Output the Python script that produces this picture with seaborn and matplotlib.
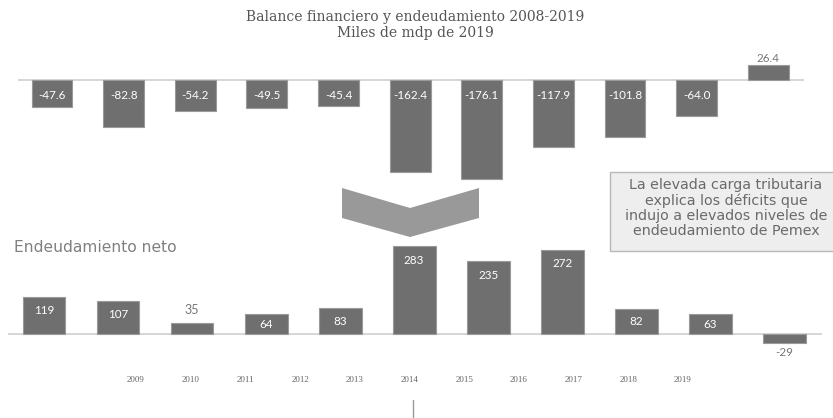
import matplotlib
matplotlib.use("Agg")
import matplotlib.pyplot as plt
import seaborn as sns
import pandas as pd
from matplotlib.patches import Polygon, Rectangle
from matplotlib.lines import Line2D

# ---- data ----
years = ["2009", "2010", "2011", "2012", "2013", "2014", "2015", "2016", "2017", "2018", "2019"]
balance = [-47.6, -82.8, -54.2, -49.5, -45.4, -162.4, -176.1, -117.9, -101.8, -64.0, 26.4]
deuda = [119, 107, 35, 64, 83, 283, 235, 272, 82, 63, -29]
title_lines = ["Balance financiero y endeudamiento 2008-2019", "Miles de mdp de 2019"]
label_deuda = "Endeudamiento neto"
note = "La elevada carga tributaria\nexplica los déficits que\nindujo a elevados niveles de\nendeudamiento de Pemex"

sns.set_theme(style="white")
plt.rcParams["font.family"] = ["DejaVu Sans"]

W, H = 833, 418
fig = plt.figure(figsize=(W / 100, H / 100), dpi=100)
fig.patch.set_facecolor("white")

def px_axes(x0, y0, x1, y1):
    return fig.add_axes([x0 / W, 1 - y1 / H, (x1 - x0) / W, (y1 - y0) / H])

BAR = "#6f6f6f"
EDGE = "#9a9a9a"
LINE = "#cfcfcf"
LBL = ["Lato", "DejaVu Sans"]

# ---- top: balance financiero ----
ax1 = px_axes(18, 52, 804, 192)
df1 = pd.DataFrame({"year": years, "v": balance})
sns.barplot(data=df1, x="year", y="v", ax=ax1, color=BAR, saturation=1,
            width=0.57, edgecolor=EDGE, linewidth=0.8)
ax1.set_xlim(-0.475, 10.5)
ax1.set_ylim(-198.6, 50.0)
ax1.axhline(0, color=LINE, lw=1.2, zorder=0)
for i, v in enumerate(balance):
    if v < 0:
        ax1.text(i, -27, f"{v:.1f}", ha="center", va="center", color="white",
                 fontsize=8.4, family=LBL)
    else:
        ax1.text(i, v + 12, f"{v:.1f}", ha="center", va="center", color="#777777",
                 fontsize=8.4, family=LBL)
ax1.axis("off")

# ---- bottom: endeudamiento neto ----
ax2 = px_axes(8, 236, 822, 362)
df2 = pd.DataFrame({"year": years, "v": deuda})
sns.barplot(data=df2, x="year", y="v", ax=ax2, color=BAR, saturation=1,
            width=0.58, edgecolor=EDGE, linewidth=0.8)
ax2.set_xlim(-0.486, 10.51)
ax2.set_ylim(-90.3, 316.1)
ax2.axhline(0, color=LINE, lw=1.2, zorder=0)
for i, v in enumerate(deuda):
    if v < 0:
        ax2.annotate(f"{v}", (i, v), xytext=(0, -7), textcoords="offset points",
                     ha="center", va="center", color="#777777", fontsize=8.4, family=LBL)
    elif v < 50:
        ax2.annotate(f"{v}", (i, v), xytext=(0, 9.5), textcoords="offset points",
                     ha="center", va="center", color="#777777", fontsize=9, family=LBL)
    else:
        off = min(10.0, v * 0.31 * 0.72 / 2)
        ax2.annotate(f"{v}", (i, v), xytext=(0, -off), textcoords="offset points",
                     ha="center", va="center", color="white", fontsize=8.4, family=LBL)
ax2.axis("off")

# ---- year labels ----
ax3 = px_axes(136, 372, 683, 373)
ax3.set_xlim(0, 10)
ax3.set_ylim(0, 1)
ax3.set_xticks(range(len(years)))
ax3.set_xticklabels(years, fontsize=6.5, color="#666666",
                    family=["Liberation Serif", "DejaVu Serif"])
ax3.tick_params(axis="x", length=0, pad=2)
ax3.set_yticks([])
for s in ax3.spines.values():
    s.set_visible(False)
ax3.patch.set_alpha(0)

# ---- title ----
for k, line in enumerate(title_lines):
    fig.text(415 / W, 1 - (17 + 16 * k) / H, line, ha="center", va="center",
             fontsize=10, color="#555555",
             family=["DejaVu Serif"])

# ---- series label ----
fig.text(14 / W, 1 - 248 / H, label_deuda, ha="left", va="center",
         fontsize=11.2, color="#808080")

# ---- chevron arrow ----
pts = [(342, 188), (410, 208), (479, 188), (479, 218), (410, 237), (342, 218)]
fig.patches.append(Polygon([(x / W, 1 - y / H) for x, y in pts], closed=True,
                           transform=fig.transFigure, facecolor="#999999",
                           edgecolor="none"))

# ---- note box ----
fig.patches.append(Rectangle((610 / W, 1 - 251 / H), 230 / W, 79 / H,
                             transform=fig.transFigure, facecolor="#eeeeee",
                             edgecolor="#b8b8b8", linewidth=1.0))
fig.text(726 / W, 1 - 208 / H, note, ha="center", va="center", fontsize=10.3,
         color="#6a6a6a", linespacing=1.1)

# ---- small tick at bottom ----
fig.lines.append(Line2D([413 / W, 413 / W], [0, 18 / H], transform=fig.transFigure,
                        color="#999999", lw=1))

fig.savefig("out.png", dpi=100, facecolor="white")
